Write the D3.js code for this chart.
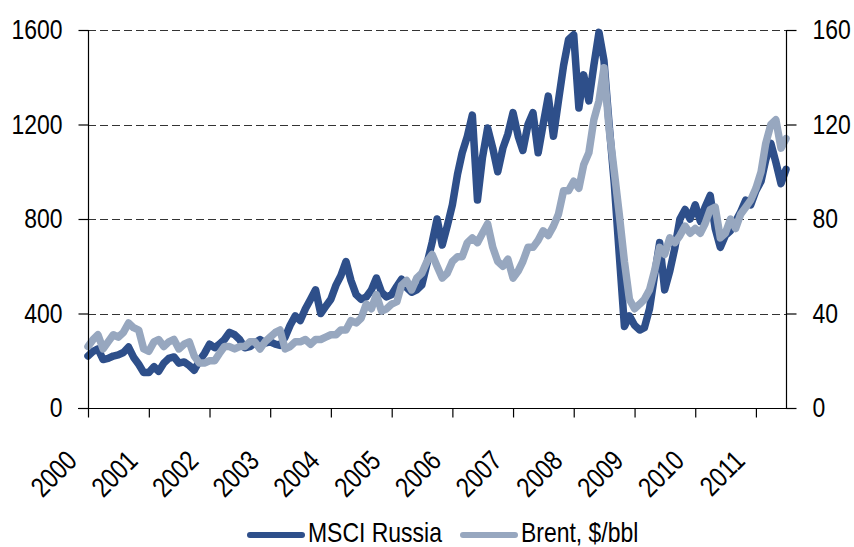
<!DOCTYPE html>
<html><head><meta charset="utf-8">
<script src="https://cdn.jsdelivr.net/npm/d3@7"></script>
<style>
html,body{margin:0;padding:0;background:#fff;}
text{font-family:"Liberation Sans",Arial,sans-serif;fill:#000;}
</style></head>
<body>
<svg id="chart" width="854" height="547"></svg>
<script>
// ---- data (monthly, starting January 2000) ----
const startMonth = "2000-01-01";
const msciRussia = [
 220,240,250,205,210,220,225,235,258,215,185,150,
 150,175,155,190,210,216,190,195,180,160,200,230,
 270,255,270,290,320,310,290,255,260,275,290,275,
 280,270,265,300,350,390,370,420,460,500,400,430,
 460,520,560,620,540,480,460,470,500,550,490,470,
 480,515,545,510,490,500,520,610,700,800,690,770,
 860,990,1080,1150,1240,880,1060,1185,1100,1000,1100,1160,
 1250,1150,1090,1200,1250,1080,1200,1320,1150,1300,1450,1560,
 1580,1270,1410,1300,1450,1590,1470,1200,950,650,345,390,
 350,330,340,420,560,700,500,580,680,800,840,800,
 860,790,850,900,760,680,730,750,790,830,880,860,
 920,960,1050,1120,1040,950,1010
];
const brentUsd = [
 26,29,31,25,28,31,30,32,36,34,33,25,
 24,28,29,26,28,29,25,27,28,22,19,19,
 20,20,23,26,26,25,26,26,28,28,25,28,
 30,32,33,25,26,28,28,29,27,29,29,30,
 31,31,33,33,37,36,38,44,42,48,41,42,
 44,45,52,54,50,55,57,62,65,60,55,57,
 62,64,64,70,72,70,74,78,68,62,60,63,
 55,58,62,68,68,71,75,73,77,82,92,92,
 96,93,103,108,122,130,144,118,100,82,62,46,
 42,44,46,50,58,68,65,72,70,73,77,74,
 76,74,78,84,85,72,74,80,76,82,85,88,
 93,100,112,120,122,110,114
];
const leftTicks = [0, 400, 800, 1200, 1600];
const rightTicks = [0, 40, 80, 120, 160];
const yearLabels = ["2000","2001","2002","2003","2004","2005","2006","2007","2008","2009","2010","2011"];
const seriesNames = ["MSCI Russia", "Brent, $/bbl"];
const colors = ["#2E4F8A", "#97A7BF"];

// ---- layout ----
const L = 88, R = 786, T = 30, B = 408;
const K = 0.82; // horizontal condensing of the text face
const svg = d3.select("#chart");
const start = d3.timeParse("%Y-%m-%d")(startMonth);
const dates = msciRussia.map((d, i) => d3.timeMonth.offset(start, i));

const x = d3.scaleTime().domain([start, new Date(2011, 6, 1)]).range([L, R]);
const yL = d3.scaleLinear().domain([0, 1600]).range([B, T]);
const yR = d3.scaleLinear().domain([0, 160]).range([B, T]);

// grid
svg.append("g").selectAll("line").data(leftTicks.filter(d => d > 0)).join("line")
  .attr("x1", L).attr("x2", R)
  .attr("y1", d => Math.round(yL(d)) + 0.5).attr("y2", d => Math.round(yL(d)) + 0.5)
  .attr("stroke", "#333").attr("stroke-width", 1).attr("stroke-dasharray", "8,4");

// lines
const msciLine = d3.line().x((d, i) => x(dates[i])).y(d => yL(d));
const brentLine = d3.line().x((d, i) => x(dates[i])).y(d => yR(d));
svg.append("path").datum(msciRussia).attr("d", msciLine)
  .attr("fill", "none").attr("stroke", colors[0]).attr("stroke-width", 7.5)
  .attr("stroke-linejoin", "round").attr("stroke-linecap", "round");
svg.append("path").datum(brentUsd).attr("d", brentLine)
  .attr("fill", "none").attr("stroke", colors[1]).attr("stroke-width", 7.5)
  .attr("stroke-linejoin", "round").attr("stroke-linecap", "round");

// axes
const fontSize = 28;
const axL = svg.append("g").attr("transform", `translate(${L + 0.5},0)`)
  .call(d3.axisLeft(yL).tickValues(leftTicks).tickSize(10).tickPadding(16).tickFormat(d3.format("d")));
const axR = svg.append("g").attr("transform", `translate(${R + 0.5},0)`)
  .call(d3.axisRight(yR).tickValues(rightTicks).tickSize(10).tickPadding(16).tickFormat(d3.format("d")));
const yearDates = yearLabels.map(y => new Date(+y, 0, 1));
const axB = svg.append("g").attr("transform", `translate(0,${B + 0.5})`)
  .call(d3.axisBottom(x).tickValues(yearDates).tickSize(9).tickFormat((d, i) => yearLabels[i]));
axB.select(".domain").attr("d", `M${L - 10},0H${R + 10}`);
[axL, axR, axB].forEach(a => {
  a.select(".domain").attr("stroke", "#000").attr("stroke-width", 1.2);
  a.selectAll(".tick line").attr("stroke", "#000").attr("stroke-width", 1.2);
  a.selectAll("text").attr("font-size", fontSize).attr("font-family", null).style("fill", "#000");
});
axL.select(".domain").attr("d", `M0,${T}V${B}`);
axR.select(".domain").attr("d", `M0,${T}V${B}`);
// condense the y tick labels with a horizontal scale
[axL, axR].forEach(a => {
  a.selectAll(".tick text").each(function () {
    const t = d3.select(this);
    const xv = +t.attr("x");
    t.attr("x", xv / K).attr("transform", `scale(${K},1)`);
  });
});
axB.selectAll(".tick text")
  .attr("text-anchor", "end").attr("dy", null).attr("y", 0)
  .attr("transform", `translate(-10,54) rotate(-45) scale(${K},1)`);

// legend
const legendX = [250, 463];
const lg = svg.append("g");
seriesNames.forEach((name, i) => {
  lg.append("line").attr("x1", legendX[i]).attr("x2", legendX[i] + 52)
    .attr("y1", 535).attr("y2", 535).attr("stroke", colors[i])
    .attr("stroke-width", 6).attr("stroke-linecap", "round");
  lg.append("text").attr("x", (legendX[i] + 58) / K).attr("y", 542)
    .attr("transform", `scale(${K},1)`)
    .attr("font-size", fontSize).text(name);
});
</script>
</body></html>
